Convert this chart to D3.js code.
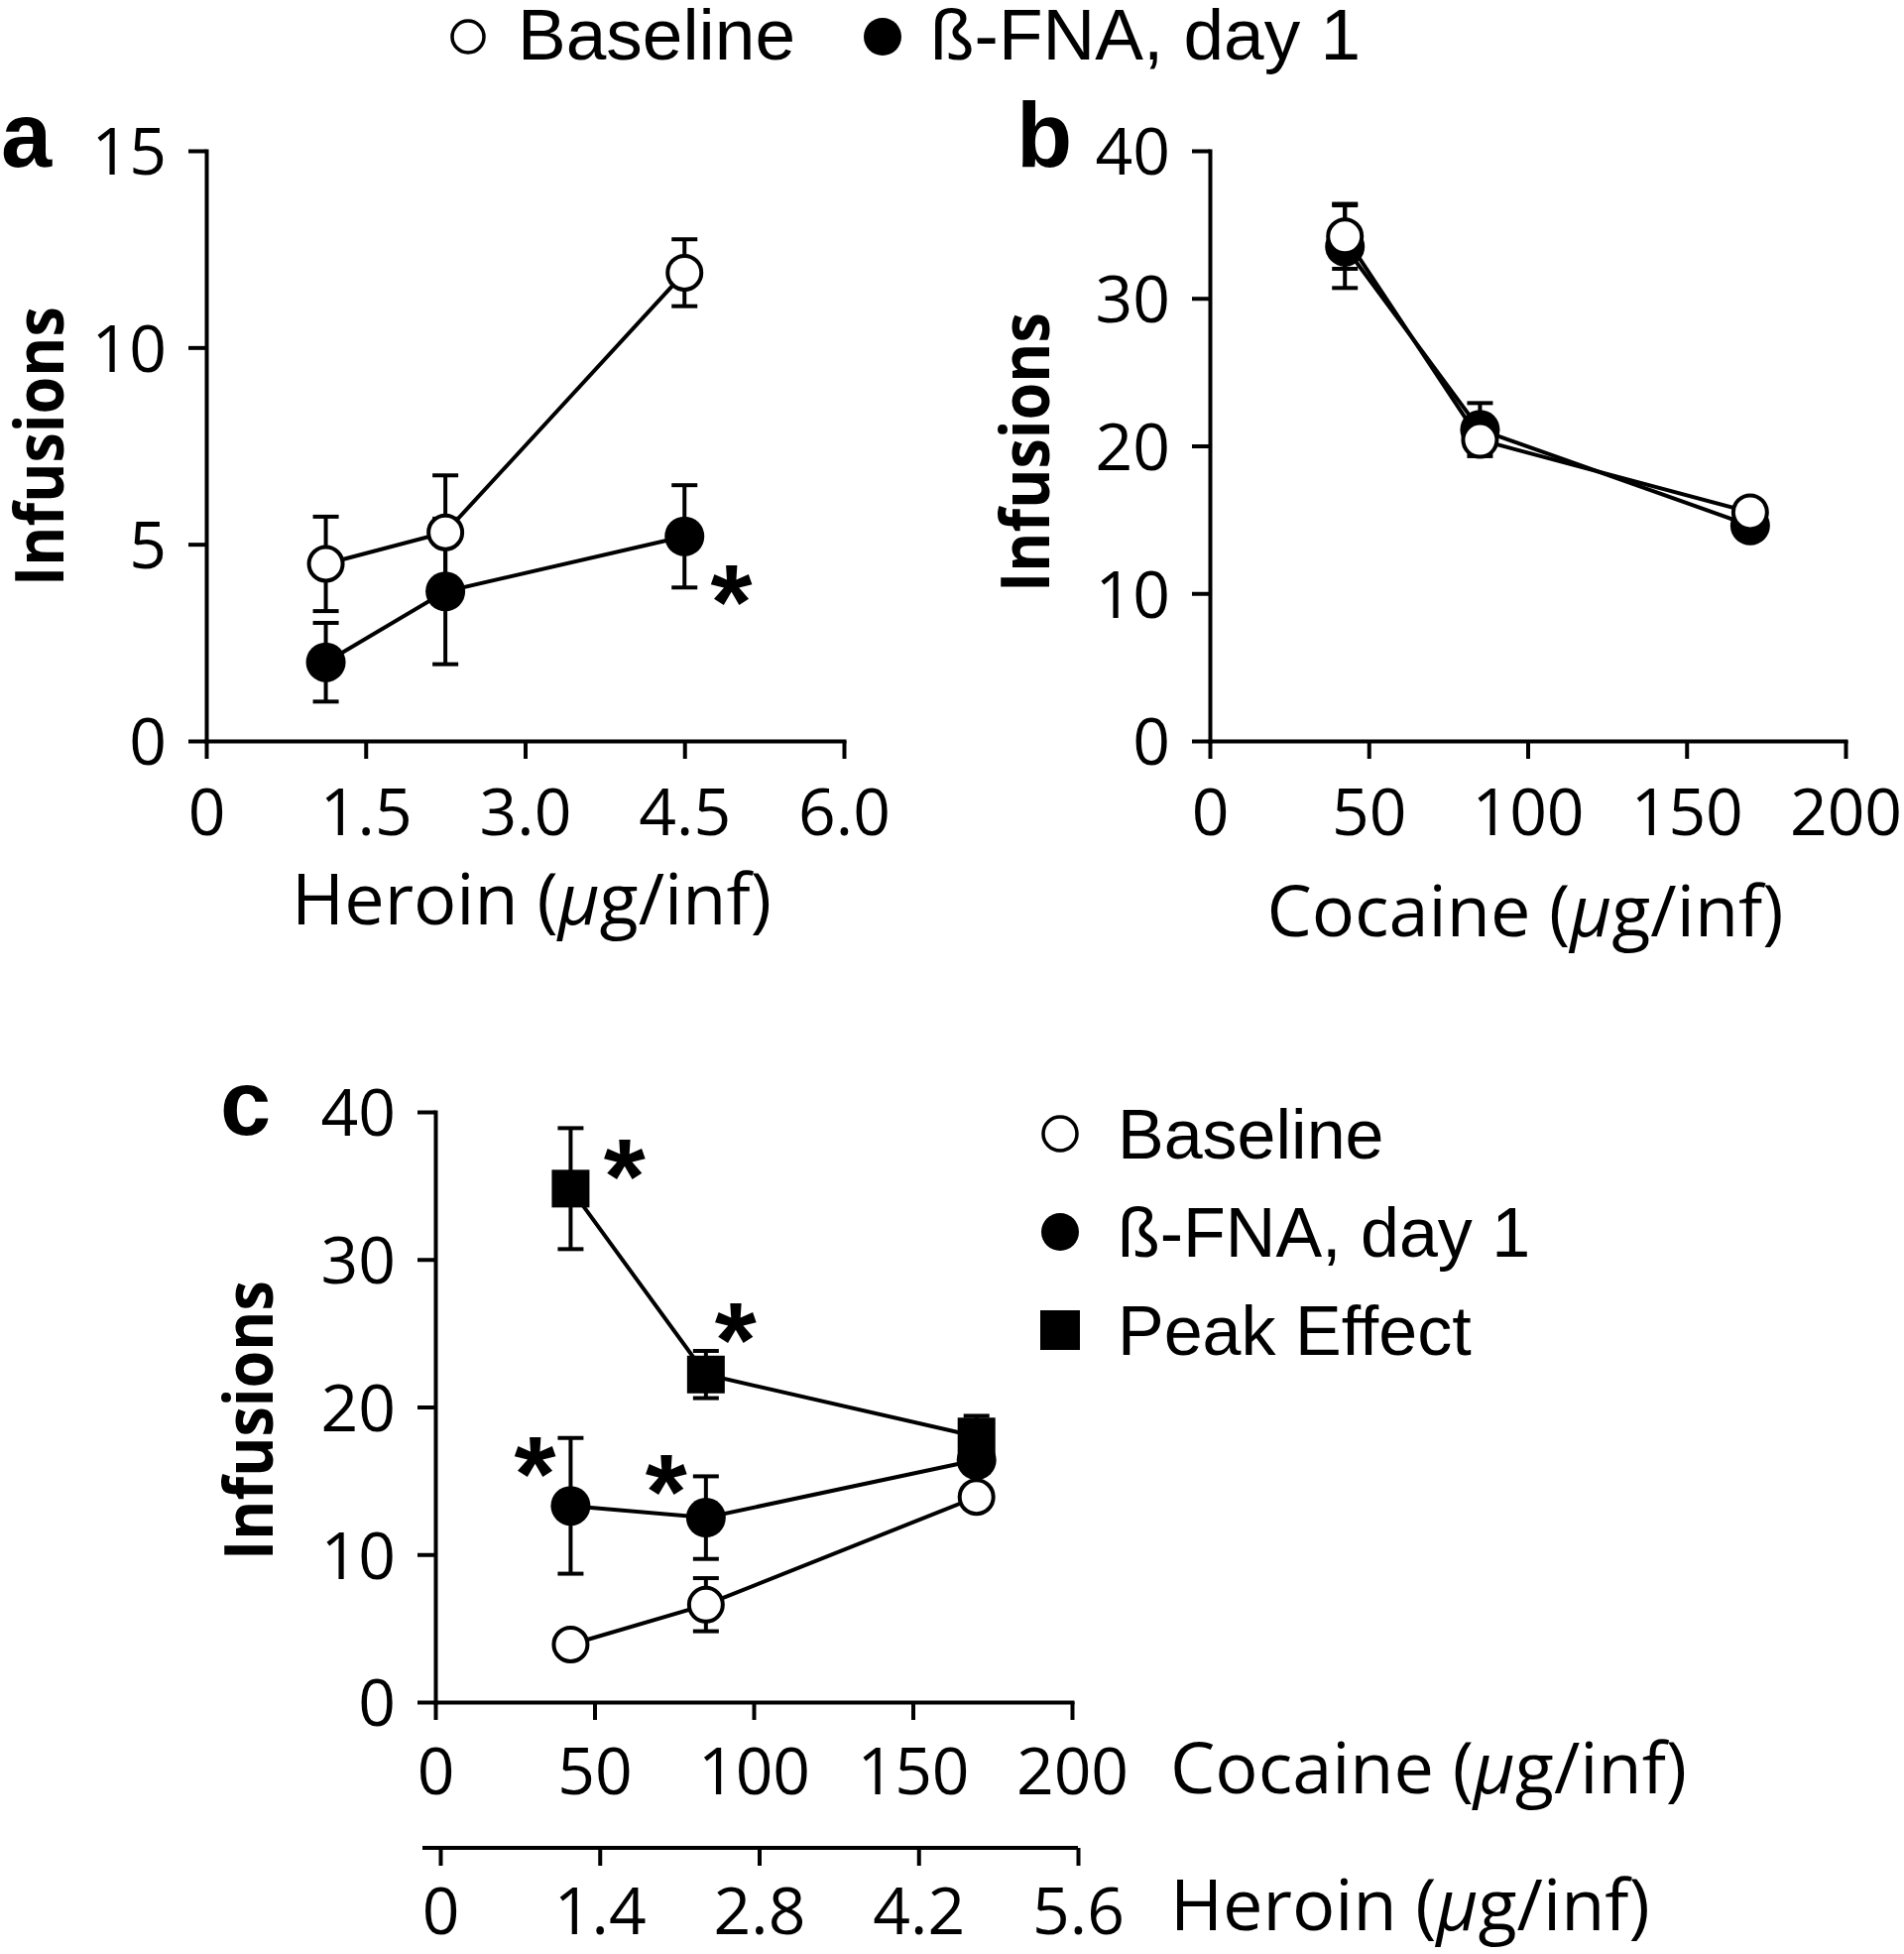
<!DOCTYPE html>
<html>
<head>
<meta charset="utf-8">
<script src="https://cdn.jsdelivr.net/npm/d3@7"></script>
<style>
  body { margin: 0; background: #fff; }
  svg { display: block; }
</style>
</head>
<body>
<svg id="chart" width="1920" height="1970"></svg>
<script>
// doses
const heroinDose = [1.125, 2.25, 4.5];
const cocaineDose = [42.5, 85, 170];

// panel a: heroin self-administration
const aBaseMean = [4.5, 5.3, 11.9];
const aBaseSem = [1.2, 1.45, 0.85];
const aFnaMean = [2.0, 3.8, 5.2];
const aFnaSem = [1.0, 1.85, 1.3];
const aStars = [[4.94, 4.1]];

// panel b: cocaine self-administration
const bBaseMean = [34.2, 20.4, 15.5];
const bBaseSem = [2.2, 0.8, 0.5];
const bFnaMean = [33.5, 21.1, 14.6];
const bFnaSem = [2.8, 1.8, 0.5];

// panel c: cocaine+heroin
const cBaseMean = [3.9, 6.6, 13.9];
const cBaseSem = [0.5, 1.8, 0.5];
const cFnaMean = [13.3, 12.5, 16.4];
const cFnaSem = [4.6, 2.8, 0.8];
const cPeakMean = [34.8, 22.2, 18.0];
const cPeakSem = [4.1, 1.6, 1.4];
const cStars = [[59.4, 37.2], [94.3, 26.1], [31.3, 17.0], [72.5, 15.8]];

// tick labels
const heroinTicksA = [0, 1.5, 3.0, 4.5, 6.0];
const heroinTicksC = [0, 1.4, 2.8, 4.2, 5.6];
const cocaineTicks = [0, 50, 100, 150, 200];
const yTicksA = [0, 5, 10, 15];
const yTicksBC = [0, 10, 20, 30, 40];

const TICK_FONT = "'Open Sans', 'Noto Sans', sans-serif";
const LEG_FONT = "'Liberation Sans', Arial, sans-serif";
const SW = 4;

const svg = d3.select("#chart");

const fmt1 = d => d === 0 ? "0" : d3.format(".1f")(d);

function styleAxis(g) {
    g.select(".domain").attr("stroke", "#000").attr("stroke-width", SW).attr("stroke-linecap", "square");
    g.selectAll(".tick line").attr("stroke", "#000").attr("stroke-width", SW);
    g.selectAll(".tick text")
        .attr("fill", "#000")
        .style("font-family", TICK_FONT)
        .style("font-size", "66px");
}

function xAxis(scale, yPos, ticks, format, labelY) {
    const g = svg.append("g")
        .attr("transform", `translate(0,${yPos})`)
        .call(d3.axisBottom(scale).tickValues(ticks).tickFormat(format).tickSize(18).tickSizeOuter(0));
    styleAxis(g);
    g.selectAll(".tick text").attr("y", labelY || 95).attr("dy", 0);
    return g;
}

function yAxis(scale, xPos, ticks) {
    const g = svg.append("g")
        .attr("transform", `translate(${xPos},0)`)
        .call(d3.axisLeft(scale).tickValues(ticks).tickSize(18).tickSizeOuter(0).tickPadding(22));
    styleAxis(g);
    g.selectAll(".tick text").attr("dy", "0.36em");
    return g;
}

function yTitle(xBase, yMid) {
    svg.append("text")
        .attr("transform", `translate(${xBase},${yMid}) rotate(-90)`)
        .attr("text-anchor", "middle")
        .attr("textLength", 282)
        .attr("lengthAdjust", "spacingAndGlyphs")
        .style("font-family", TICK_FONT)
        .style("font-weight", 700)
        .style("font-size", "68px")
        .text("Infusions");
}

function xTitle(x, y, drug, anchor) {
    const t = svg.append("text")
        .attr("x", x).attr("y", y)
        .attr("text-anchor", anchor)
        .style("font-family", TICK_FONT)
        .style("font-size", "72px");
    t.append("tspan").text(drug + " (");
    t.append("tspan").style("font-style", "italic").text("\u03bc");
    t.append("tspan").text("g/inf)");
}

function panelLabel(x, y, s) {
    svg.append("text").attr("x", x).attr("y", y)
        .style("font-family", LEG_FONT).style("font-weight", 700).style("font-size", "92px")
        .text(s);
}

function marker(sel, kind, size) {
    if (kind === "square") {
        sel.append("rect")
            .attr("x", -size).attr("y", -size).attr("width", size * 2).attr("height", size * 2)
            .attr("fill", "#000");
    } else if (kind === "open") {
        sel.append("circle").attr("r", size).attr("fill", "#fff").attr("stroke", "#000").attr("stroke-width", SW);
    } else {
        sel.append("circle").attr("r", size).attr("fill", "#000");
    }
}

function drawSeries(x, y, doses, series) {
    const line = d3.line().x((d, i) => x(doses[i])).y(d => y(d));
    series.forEach(s => {
        svg.append("path").datum(s.mean)
            .attr("d", line).attr("fill", "none").attr("stroke", "#000").attr("stroke-width", SW);
    });
    series.forEach(s => {
        const eb = svg.append("g").selectAll("g").data(s.mean).join("g")
            .attr("transform", (d, i) => `translate(${x(doses[i])},0)`);
        eb.append("line")
            .attr("y1", (d, i) => y(d - s.sem[i])).attr("y2", (d, i) => y(d + s.sem[i]))
            .attr("stroke", "#000").attr("stroke-width", SW);
        [-1, 1].forEach(sign => {
            eb.append("line")
                .attr("x1", -13).attr("x2", 13)
                .attr("y1", (d, i) => y(d + sign * s.sem[i])).attr("y2", (d, i) => y(d + sign * s.sem[i]))
                .attr("stroke", "#000").attr("stroke-width", SW);
        });
    });
    series.forEach(s => {
        const m = svg.append("g").selectAll("g").data(s.mean).join("g")
            .attr("transform", (d, i) => `translate(${x(doses[i])},${y(d)})`);
        marker(m, s.kind, s.kind === "open" ? 17 : s.kind === "square" ? 19 : 20);
    });
}

function stars(x, y, pts) {
    svg.append("g").selectAll("text").data(pts).join("text")
        .attr("x", d => x(d[0]))
        .attr("y", d => y(d[1]) + 0.555 * 108)
        .attr("text-anchor", "middle")
        .style("font-family", LEG_FONT).style("font-weight", 700).style("font-size", "108px")
        .text("*");
}

// ---------- panel a ----------
const xa = d3.scaleLinear().domain([0, 6]).range([208, 851]);
const ya = d3.scaleLinear().domain([0, 15]).range([747, 152]);
xAxis(xa, 747, heroinTicksA, fmt1);
yAxis(ya, 208, yTicksA);
drawSeries(xa, ya, heroinDose, [
    {mean: aFnaMean, sem: aFnaSem, kind: "filled"},
    {mean: aBaseMean, sem: aBaseSem, kind: "open"}
]);
stars(xa, ya, aStars);
yTitle(64, 450);
xTitle(536, 932, "Heroin", "middle");
panelLabel(1, 168, "a");

// ---------- panel b ----------
const xb = d3.scaleLinear().domain([0, 200]).range([1220, 1861]);
const yb = d3.scaleLinear().domain([0, 40]).range([747, 152]);
xAxis(xb, 747, cocaineTicks, d3.format("d"));
yAxis(yb, 1220, yTicksBC);
drawSeries(xb, yb, cocaineDose, [
    {mean: bFnaMean, sem: bFnaSem, kind: "filled"},
    {mean: bBaseMean, sem: bBaseSem, kind: "open"}
]);
yTitle(1058, 456);
xTitle(1538, 944, "Cocaine", "middle");
panelLabel(1025, 168, "b");

// ---------- panel c ----------
const xc = d3.scaleLinear().domain([0, 200]).range([439, 1081]);
const yc = d3.scaleLinear().domain([0, 40]).range([1716, 1121]);
const xh = d3.scaleLinear().domain([0, 5.6]).range([444, 1087]);
xAxis(xc, 1716, cocaineTicks, d3.format("d"), 93);
const hAx = xAxis(xh, 1863, heroinTicksC, fmt1, 87);
hAx.select(".domain").attr("d", `M${xh(0) - 18},0H${xh(5.6)}`).attr("stroke-linecap", "butt");
yAxis(yc, 439, yTicksBC);
drawSeries(xc, yc, cocaineDose, [
    {mean: cPeakMean, sem: cPeakSem, kind: "square"},
    {mean: cFnaMean, sem: cFnaSem, kind: "filled"},
    {mean: cBaseMean, sem: cBaseSem, kind: "open"}
]);
stars(xc, yc, cStars);
yTitle(275, 1432);
xTitle(1180, 1808, "Cocaine", "start");
xTitle(1180, 1946, "Heroin", "start");
panelLabel(222, 1144, "c");

// ---------- legends ----------
const topLegend = [
    {label: "Baseline", kind: "open", mx: 472, tx: 522},
    {label: "\u00df-FNA, day 1", kind: "filled", mx: 890, tx: 938}
];
topLegend.forEach(d => {
    const g = svg.append("g").attr("transform", `translate(${d.mx},37)`);
    if (d.kind === "open") {
        g.append("circle").attr("r", 16).attr("fill", "#fff").attr("stroke", "#000").attr("stroke-width", 3.5);
    } else {
        g.append("circle").attr("r", 19).attr("fill", "#000");
    }
    svg.append("text").attr("x", d.tx).attr("y", 60)
        .style("font-family", LEG_FONT).style("font-size", "73px").text(d.label);
});

const cLegend = [
    {label: "Baseline", kind: "open", cy: 1143},
    {label: "\u00df-FNA, day 1", kind: "filled", cy: 1242},
    {label: "Peak Effect", kind: "square", cy: 1341}
];
cLegend.forEach(d => {
    const g = svg.append("g").attr("transform", `translate(1069,${d.cy})`);
    if (d.kind === "open") {
        g.append("circle").attr("r", 17).attr("fill", "#fff").attr("stroke", "#000").attr("stroke-width", 3.5);
    } else if (d.kind === "filled") {
        g.append("circle").attr("r", 19).attr("fill", "#000");
    } else {
        g.append("rect").attr("x", -20).attr("y", -20).attr("width", 40).attr("height", 40).attr("fill", "#000");
    }
    svg.append("text").attr("x", 1127).attr("y", d.cy + 25)
        .style("font-family", LEG_FONT).style("font-size", "70px").text(d.label);
});
</script>
</body>
</html>
